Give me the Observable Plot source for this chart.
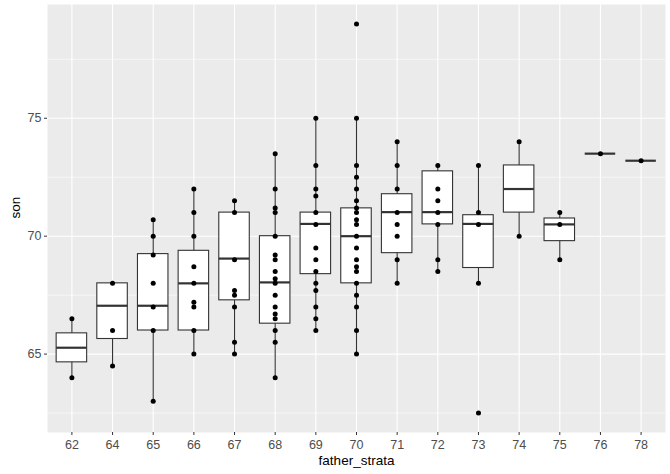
<!DOCTYPE html>
<html>
<head>
<meta charset="utf-8">
<script src="https://cdn.jsdelivr.net/npm/d3@7"></script>
<script src="https://cdn.jsdelivr.net/npm/@observablehq/plot@0.6"></script>
<style>
  html, body { margin: 0; padding: 0; background: white; }
</style>
</head>
<body>
<div id="chart"></div>
<script>
// Categories (father_strata)
const cats = ["62","64","65","66","67","68","69","70","71","72","73","74","75","76","78"];
// Box statistics
const whiskerLo = [64.0, 64.5, 63.0, 65.0, 65.0, 64.0, 66.0, 65.0, 68.0, 68.5, 68.0, 70.0, 69.0, 73.5, 73.2];
const q1        = [64.65, 65.64, 66.0, 66.0, 67.28, 66.29, 68.39, 68.0, 69.28, 70.5, 68.65, 71.0, 69.79, 73.5, 73.2];
const median    = [65.27, 67.05, 67.05, 68.0, 69.05, 68.04, 70.52, 70.0, 71.02, 71.02, 70.52, 72.0, 70.5, 73.5, 73.2];
const q3        = [65.88, 68.0, 69.24, 69.38, 71.0, 70.0, 71.0, 71.18, 71.78, 72.75, 70.89, 73.0, 70.75, 73.5, 73.2];
const whiskerHi = [66.5, 68.0, 70.7, 72.0, 71.5, 73.5, 75.0, 75.0, 74.0, 73.0, 73.0, 74.0, 71.0, 73.5, 73.2];
// Observed son heights per category (same order as cats)
const sonPoints = [
  [66.5, 64],
  [68, 66, 64.5],
  [70.7, 70, 69.2, 68, 67, 66, 63],
  [72, 71, 70, 68.7, 68, 67.2, 67, 66, 65],
  [71.5, 71, 69, 67.7, 67.5, 67, 65.5, 65],
  [73.5, 72, 71.2, 71, 70, 69.2, 69, 68.5, 68.2, 68, 67.5, 67, 66.7, 66.5, 66, 65.5, 64],
  [75, 73, 72, 71.7, 71, 70.5, 69.5, 69, 68.5, 68, 67.7, 67, 66.5, 66],
  [79, 75, 73, 72.5, 72, 71.5, 71.2, 71, 70.7, 70.5, 70, 69.5, 69, 68.7, 68.5, 68, 67.5, 67, 66, 65],
  [74, 73, 72, 71, 70.5, 70, 69, 68],
  [73, 72, 71.5, 71, 70.5, 69, 68.5],
  [73, 71, 70.5, 68, 62.5],
  [74, 70],
  [71, 70.5, 69],
  [73.5],
  [73.2]
];
// Axis ticks / grid
const majorY = [65, 70, 75];
const minorY = [62.5, 67.5, 72.5, 77.5];

const boxes = cats.map((c, i) => ({cat: c, lo: whiskerLo[i], q1: q1[i], med: median[i], q3: q3[i], hi: whiskerHi[i]}));
const pts = cats.flatMap((c, i) => sonPoints[i].map(v => ({cat: c, son: v})));

const chart = Plot.plot({
  width: 670,
  height: 474,
  marginLeft: 47,
  marginRight: 5,
  marginTop: 4,
  marginBottom: 42,
  style: {fontFamily: "'Liberation Sans', Arial, sans-serif", fontSize: "12px", background: "white", color: "#4D4D4D"},
  x: {type: "band", domain: cats, paddingInner: 0.25, paddingOuter: 0.225, round: false},
  y: {domain: [61.675, 79.825]},
  marks: [
    Plot.frame({fill: "#EBEBEB", stroke: null}),
    Plot.ruleY(minorY, {stroke: "white", strokeWidth: 0.55}),
    Plot.ruleY(majorY, {stroke: "white", strokeWidth: 1.1}),
    Plot.ruleX(cats, {x: d => d, stroke: "white", strokeWidth: 1.1}),
    Plot.ruleX(boxes, {x: "cat", y1: "lo", y2: "hi", stroke: "#333333", strokeWidth: 1.1}),
    Plot.barY(boxes, {x: "cat", y1: "q1", y2: "q3", fill: "white", stroke: "#333333", strokeWidth: 1.1}),
    Plot.tickY(boxes, {x: "cat", y: "med", stroke: "#333333", strokeWidth: 2.2}),
    Plot.dot(pts, {x: "cat", y: "son", r: 2.5, fill: "black", stroke: null}),
    Plot.axisX({tickSize: 3, tickPadding: 5, fontSize: 12.5, stroke: "#333333", fill: "#4D4D4D", label: null}),
    Plot.axisY({ticks: majorY, tickSize: 3, tickPadding: 3, fontSize: 12.5, stroke: "#333333", fill: "#4D4D4D", label: null}),
    Plot.text(["son"], {text: d => d, frameAnchor: "left", dx: -32, rotate: -90, fill: "black", fontSize: 13.5}),
    Plot.text(["father_strata"], {text: d => d, frameAnchor: "bottom", dy: 32, fill: "black", fontSize: 13.5})
  ]
});
document.getElementById("chart").appendChild(chart);
</script>
</body>
</html>
